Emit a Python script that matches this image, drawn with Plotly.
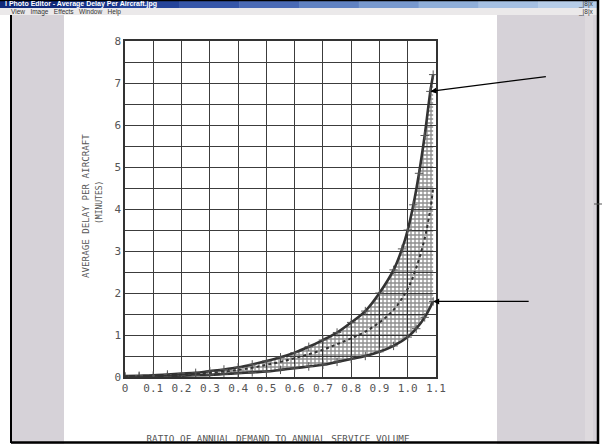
import plotly.graph_objects as go

# ---------------- data ----------------
x_tick_vals = [0, 0.1, 0.2, 0.3, 0.4, 0.5, 0.6, 0.7, 0.8, 0.9, 1.0, 1.1]
x_tick_text = ["0", "0.1", "0.2", "0.3", "0.4", "0.5", "0.6", "0.7", "0.8", "0.9", "1.0", "1.1"]
y_tick_vals = [0, 0.5, 1, 1.5, 2, 2.5, 3, 3.5, 4, 4.5, 5, 5.5, 6, 6.5, 7, 7.5, 8]
y_tick_text = ["0", "", "1", "", "2", "", "3", "", "4", "", "5", "", "6", "", "7", "", "8"]

upper_x = [0, 0.05, 0.1, 0.15, 0.2, 0.25, 0.3, 0.35, 0.4, 0.45, 0.5, 0.55, 0.6,
           0.65, 0.7, 0.75, 0.8, 0.85, 0.9, 0.95, 0.98, 1.0, 1.02, 1.04, 1.06, 1.08, 1.09]
upper_y = [0.02, 0.03, 0.04, 0.06, 0.08, 0.10, 0.14, 0.18, 0.23, 0.30, 0.38, 0.47, 0.58,
           0.72, 0.88, 1.06, 1.30, 1.57, 2.0, 2.55, 3.05, 3.5, 4.1, 4.85, 5.75, 6.8, 7.2]

middle_x = [0, 0.05, 0.1, 0.15, 0.2, 0.25, 0.3, 0.35, 0.4, 0.45, 0.5, 0.55, 0.6,
            0.65, 0.7, 0.75, 0.8, 0.85, 0.9, 0.95, 1.0, 1.03, 1.06, 1.08, 1.09]
middle_y = [0.01, 0.02, 0.03, 0.04, 0.06, 0.08, 0.10, 0.13, 0.17, 0.22, 0.29, 0.36, 0.45,
            0.54, 0.65, 0.78, 0.92, 1.08, 1.30, 1.60, 2.10, 2.60, 3.30, 4.00, 4.50]

lower_x = [0, 0.05, 0.1, 0.15, 0.2, 0.25, 0.3, 0.35, 0.4, 0.45, 0.5, 0.55, 0.6,
           0.65, 0.7, 0.75, 0.8, 0.85, 0.9, 0.95, 1.0, 1.03, 1.06, 1.09]
lower_y = [0.0, 0.01, 0.01, 0.02, 0.03, 0.04, 0.05, 0.07, 0.09, 0.11, 0.13, 0.17, 0.21,
           0.25, 0.29, 0.36, 0.43, 0.50, 0.60, 0.74, 0.95, 1.15, 1.42, 1.80]

y_title = "AVERAGE DELAY PER AIRCRAFT"
y_subtitle = "(MINUTES)"
x_title = "RATIO OF ANNUAL DEMAND TO ANNUAL SERVICE VOLUME"
window_title = "l Photo Editor - Average Delay Per Aircraft.jpg"
menu_text = "View   Image   Effects   Window   Help"

# ---------------- layout geometry (pixels) ----------------
W, H = 607, 444
L, R, T, B = 125, 436, 41, 377


def px(x):
    return x / W


def py(y):
    return 1 - y / H


INK = "#333333"
TXT = "#555555"
MONO = "DejaVu Sans Mono"

fig = go.Figure()

curve_marker = dict(symbol="cross-thin", size=6, color="#555555",
                    line=dict(width=1, color="#555555"))

fig.add_trace(go.Scatter(
    x=lower_x, y=lower_y, mode="lines+markers",
    line=dict(color=INK, width=2.6, shape="spline"),
    marker=curve_marker, hoverinfo="skip", showlegend=False))

fig.add_trace(go.Scatter(
    x=upper_x, y=upper_y, mode="lines+markers", fill="tonexty",
    fillcolor="rgba(0,0,0,0)",
    fillpattern=dict(shape="+", size=4, solidity=0.55, fgcolor="#1e1e1e",
                     bgcolor="rgba(255,255,255,0)"),
    line=dict(color=INK, width=2.6, shape="spline"),
    marker=curve_marker, hoverinfo="skip", showlegend=False))

fig.add_trace(go.Scatter(
    x=middle_x, y=middle_y, mode="lines",
    line=dict(color=INK, width=2, dash="3px,3px", shape="spline"),
    hoverinfo="skip", showlegend=False))

# x-axis title, partly hidden by the bottom edge of the screenshot
fig.add_trace(go.Scatter(
    x=[278], y=[440], mode="text", text=[x_title], textposition="middle center",
    textfont=dict(family=MONO, size=9.3, color=TXT), cliponaxis=True,
    xaxis="x2", yaxis="y2", hoverinfo="skip", showlegend=False))

shapes = []
# gray window background and white page
shapes.append(dict(type="rect", xref="paper", yref="paper", layer="below",
                   x0=px(11), x1=px(598), y0=py(444), y1=py(15),
                   fillcolor="#d6d2d8", line=dict(width=0)))
shapes.append(dict(type="rect", xref="paper", yref="paper", layer="below",
                   x0=px(64), x1=px(497), y0=py(444), y1=py(15),
                   fillcolor="white", line=dict(width=0)))
shapes.append(dict(type="rect", xref="paper", yref="paper", layer="below",
                   x0=px(585), x1=px(593), y0=py(444), y1=py(15),
                   fillcolor="#dedade", line=dict(width=0)))
# menu bar
shapes.append(dict(type="rect", xref="paper", yref="paper",
                   x0=px(0), x1=px(598), y0=py(15), y1=py(8),
                   fillcolor="#ebe9ea", line=dict(width=0)))
# title bar gradient
blues = ["#10297a", "#18348a", "#25449a", "#3656a8", "#4a6ab5",
         "#6082c2", "#7899ce", "#90afd9", "#a5c0e2", "#b6cde8"]
step = 598 / len(blues)
for i, c in enumerate(blues):
    shapes.append(dict(type="rect", xref="paper", yref="paper",
                       x0=px(i * step), x1=px((i + 1) * step + 0.5),
                       y0=py(8), y1=py(1), fillcolor=c, line=dict(width=0)))
# black frame lines
shapes.append(dict(type="line", xref="paper", yref="paper",
                   x0=px(0), x1=px(599), y0=py(0.5), y1=py(0.5),
                   line=dict(color="black", width=1.5)))
shapes.append(dict(type="line", xref="paper", yref="paper",
                   x0=px(11), x1=px(11), y0=py(15), y1=py(443),
                   line=dict(color="black", width=2)))
shapes.append(dict(type="line", xref="paper", yref="paper",
                   x0=px(598), x1=px(598), y0=py(0), y1=py(444),
                   line=dict(color="black", width=2.5)))
shapes.append(dict(type="line", xref="paper", yref="paper",
                   x0=px(11), x1=px(598), y0=py(442.5), y1=py(442.5),
                   line=dict(color="black", width=2.5)))
shapes.append(dict(type="line", xref="paper", yref="paper",
                   x0=px(594), x1=px(602), y0=py(204), y1=py(204),
                   line=dict(color="#555555", width=1)))

annotations = [
    dict(text="<b>" + window_title + "</b>", xref="paper", yref="paper",
         x=px(3), y=py(4.5), xanchor="left", yanchor="middle", showarrow=False,
         font=dict(family="Liberation Sans", size=7, color="white")),
    dict(text=menu_text, xref="paper", yref="paper",
         x=px(9), y=py(11.5), xanchor="left", yanchor="middle", showarrow=False,
         font=dict(family="Liberation Sans", size=6.5, color="#333333")),
    dict(text="_|8|x", xref="paper", yref="paper",
         x=px(596), y=py(4.5), xanchor="right", yanchor="middle", showarrow=False,
         font=dict(family="Liberation Sans", size=6.5, color="#333333")),
    dict(text="_|8|x", xref="paper", yref="paper",
         x=px(596), y=py(11.5), xanchor="right", yanchor="middle", showarrow=False,
         font=dict(family="Liberation Sans", size=6.5, color="#333333")),
    dict(text=y_title, xref="paper", yref="paper", textangle=-90,
         x=px(86), y=py(206), xanchor="center", yanchor="middle", showarrow=False,
         font=dict(family=MONO, size=9.2, color=TXT)),
    dict(text=y_subtitle, xref="paper", yref="paper", textangle=-90,
         x=px(99), y=py(202), xanchor="center", yanchor="middle", showarrow=False,
         font=dict(family=MONO, size=8, color=TXT)),
    # arrows pointing at the ends of the envelope curves
    dict(text="", x=upper_x[-2], y=upper_y[-2], xref="x", yref="y",
         ax=117, ay=-15, showarrow=True, arrowhead=2, arrowsize=1,
         arrowwidth=1.2, arrowcolor="black"),
    dict(text="", x=lower_x[-1], y=lower_y[-1], xref="x", yref="y",
         ax=97, ay=0, showarrow=True, arrowhead=2, arrowsize=1,
         arrowwidth=1.2, arrowcolor="black"),
]

fig.update_layout(
    width=W, height=H,
    margin=dict(l=0, r=0, t=0, b=0, autoexpand=False),
    paper_bgcolor="white", plot_bgcolor="rgba(0,0,0,0)",
    showlegend=False,
    shapes=shapes, annotations=annotations,
    xaxis=dict(domain=[L / W, R / W], anchor="y",
               range=[0, 1.1], tickmode="array", tickvals=x_tick_vals,
               ticktext=x_tick_text, showgrid=True, gridcolor="#3c3c3c",
               gridwidth=1.3, showline=True, linecolor=INK, linewidth=1.6,
               mirror=True, zeroline=False, ticks="", automargin=False,
               tickfont=dict(family=MONO, size=11, color=TXT)),
    yaxis=dict(domain=[1 - B / H, 1 - T / H], anchor="x",
               range=[0, 8], tickmode="array", tickvals=y_tick_vals,
               ticktext=y_tick_text, showgrid=True, gridcolor="#3c3c3c",
               gridwidth=1.3, showline=True, linecolor=INK, linewidth=1.6,
               mirror=True, zeroline=False, ticks="", automargin=False,
               tickfont=dict(family=MONO, size=11, color=TXT)),
    xaxis2=dict(domain=[0, 1], range=[0, W], visible=False, anchor="y2",
                fixedrange=True),
    yaxis2=dict(domain=[1 - 441.3 / H, 1 - 420 / H], range=[441.3, 420],
                visible=False, anchor="x2", fixedrange=True),
)

fig.write_html(
    "out.html",
    config={"displayModeBar": False},
    post_script="document.body.style.margin='0';document.body.style.overflow='hidden';",
)
